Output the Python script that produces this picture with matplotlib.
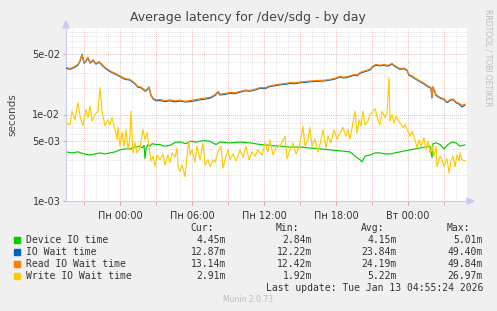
import numpy as np
import matplotlib
matplotlib.use("Agg")
import matplotlib.pyplot as plt
from matplotlib.patches import Polygon, Rectangle

# time in minutes relative to "Пн 00:00"
read_t = [-270, -250, -225, -210, -200, -190, -180, -170, -160, -150, -135, -120, -105, -90, -75,
          -50, -25, 0, 25, 50, 75, 90, 100, 115, 125, 135, 145, 155, 165, 180, 200, 225, 250, 275,
          300, 325, 350, 375, 400, 425, 450, 475, 490, 500, 525, 550, 575, 600, 625, 650, 675, 700,
          725, 750, 775, 800, 825, 850, 875, 900, 925, 950, 975, 1000, 1025, 1050, 1075, 1100, 1115,
          1130, 1150, 1175, 1185, 1200, 1225, 1250, 1265, 1280, 1300, 1320, 1340, 1360, 1380, 1400,
          1420, 1435, 1445, 1460, 1480, 1500, 1520, 1540, 1555, 1560, 1565, 1580, 1600, 1620, 1635,
          1650, 1665, 1680, 1695, 1710, 1725]
read_wait = [0.035, 0.034, 0.036, 0.038, 0.042, 0.0498, 0.040, 0.042, 0.046, 0.040, 0.043, 0.039,
             0.041, 0.038, 0.035, 0.032, 0.030, 0.028, 0.026, 0.0255, 0.023, 0.021, 0.021, 0.020,
             0.019, 0.0195, 0.021, 0.017, 0.0155, 0.0148, 0.0149, 0.0145, 0.0148, 0.0144, 0.0147,
             0.0142, 0.0145, 0.0148, 0.0152, 0.0155, 0.0158, 0.017, 0.0185, 0.0172, 0.0175, 0.018,
             0.0178, 0.0185, 0.0192, 0.019, 0.0196, 0.0205, 0.0204, 0.0215, 0.022, 0.0225, 0.0228,
             0.0234, 0.0232, 0.0238, 0.024, 0.0244, 0.0246, 0.0248, 0.025, 0.0255, 0.0262, 0.0277,
             0.027, 0.0272, 0.028, 0.0292, 0.0285, 0.0305, 0.032, 0.0334, 0.0365, 0.038, 0.0372,
             0.0378, 0.037, 0.039, 0.036, 0.034, 0.0345, 0.033, 0.029, 0.028, 0.026, 0.0244, 0.023,
             0.0213, 0.0205, 0.0158, 0.021, 0.017, 0.0158, 0.0152, 0.014, 0.0148, 0.0152, 0.014,
             0.0135, 0.0128, 0.01314]
io_wait = [0.0342, 0.0333, 0.0352, 0.0372, 0.0411, 0.0494, 0.0392, 0.0412, 0.0451, 0.0392, 0.0421,
           0.0382, 0.0402, 0.0372, 0.0343, 0.0313, 0.0294, 0.0274, 0.0255, 0.0250, 0.0225, 0.0206,
           0.0206, 0.0196, 0.0186, 0.0191, 0.0206, 0.0166, 0.0152, 0.0144, 0.0145, 0.0141, 0.0144,
           0.0140, 0.0143, 0.01395, 0.0141, 0.0144, 0.0148, 0.0151, 0.0154, 0.0166, 0.0181, 0.0168,
           0.0171, 0.0176, 0.0174, 0.0181, 0.0188, 0.0186, 0.0192, 0.0201, 0.0199, 0.0211, 0.0215,
           0.0220, 0.0223, 0.0229, 0.0227, 0.0233, 0.0235, 0.0239, 0.0241, 0.0243, 0.0245, 0.0250,
           0.0257, 0.0271, 0.0265, 0.0266, 0.0274, 0.0286, 0.0279, 0.0299, 0.0313, 0.0327, 0.0357,
           0.0372, 0.0365, 0.0370, 0.0362, 0.0382, 0.0352, 0.0333, 0.0338, 0.0323, 0.0284, 0.0274,
           0.0255, 0.0239, 0.0225, 0.0209, 0.0201, 0.0155, 0.0206, 0.0166, 0.0155, 0.0149, 0.0137,
           0.0145, 0.0149, 0.0137, 0.0132, 0.01222, 0.01287]

dev_t = [-270, -240, -210, -180, -150, -125, -100, -75, -50, -25, 0, 25, 50, 75, 100, 110, 120, 125,
         130, 140, 150, 160, 180, 200, 220, 250, 280, 300, 330, 350, 380, 420, 450, 480, 500, 550,
         600, 650, 700, 750, 800, 850, 900, 950, 1000, 1050, 1100, 1150, 1175, 1200, 1210, 1225,
         1250, 1275, 1300, 1325, 1350, 1375, 1400, 1425, 1450, 1475, 1500, 1525, 1550, 1560, 1565,
         1580, 1600, 1620, 1640, 1660, 1680, 1700, 1725]
dev_io = [0.0037, 0.0036, 0.0037, 0.0035, 0.0034, 0.0035, 0.0036, 0.0035, 0.0036, 0.0037, 0.0039,
          0.0040, 0.0040, 0.0042, 0.0043, 0.0041, 0.0044, 0.0031, 0.0040, 0.0045, 0.0043, 0.0046,
          0.0045, 0.0045, 0.0043, 0.0044, 0.0048, 0.0048, 0.0046, 0.0049, 0.0048, 0.0050, 0.0049,
          0.0045, 0.0048, 0.0047, 0.0048, 0.0047, 0.0045, 0.0044, 0.0043, 0.0042, 0.0042, 0.0041,
          0.0040, 0.0039, 0.0038, 0.0037, 0.0033, 0.0030, 0.00284, 0.0033, 0.0034, 0.0036, 0.0036,
          0.0035, 0.0035, 0.0036, 0.0037, 0.0038, 0.0039, 0.0040, 0.0041, 0.0042, 0.0043, 0.0032,
          0.0046, 0.0047, 0.0045, 0.0040, 0.0045, 0.0048, 0.0047, 0.0043, 0.00445]

wr_t = [-270, -260, -250, -240, -225, -210, -200, -185, -170, -160, -150, -140, -125, -110, -100,
        -90, -75, -60, -50, -40, -25, -15, -10, 0, 10, 20, 30, 40, 50, 55, 65, 75, 85, 100, 115, 125,
        135, 145, 155, 165, 175, 185, 200, 215, 225, 240, 250, 260, 275, 285, 290, 300, 310, 325,
        340, 345, 350, 360, 375, 385, 400, 415, 425, 440, 450, 465, 475, 490, 505, 515, 530, 540,
        550, 565, 580, 600, 615, 630, 645, 660, 675, 690, 710, 725, 740, 750, 765, 780, 800, 825,
        835, 850, 865, 880, 895, 915, 925, 940, 950, 960, 975, 990, 1000, 1015, 1030, 1040, 1055,
        1070, 1085, 1100, 1115, 1130, 1140, 1150, 1165, 1175, 1185, 1195, 1205, 1215, 1225, 1240,
        1250, 1260, 1275, 1290, 1300, 1310, 1325, 1335, 1345, 1350, 1360, 1370, 1380, 1390, 1400,
        1415, 1425, 1440, 1450, 1460, 1475, 1485, 1495, 1505, 1520, 1530, 1540, 1550, 1560, 1570,
        1580, 1585, 1600, 1610, 1620, 1635, 1645, 1655, 1665, 1675, 1685, 1695, 1700, 1710, 1725]
wr_wait = [0.0081, 0.0078, 0.0076, 0.0109, 0.0087, 0.0137, 0.0096, 0.0074, 0.0114, 0.0092, 0.0125,
           0.0084, 0.0100, 0.0109, 0.0204, 0.0109, 0.0074, 0.0087, 0.0076, 0.0092, 0.0067, 0.0051,
           0.0071, 0.0043, 0.0062, 0.0043, 0.0067, 0.0039, 0.0056, 0.0109, 0.0036, 0.0047, 0.0036,
           0.0041, 0.0067, 0.0051, 0.0062, 0.0043, 0.0029, 0.0033, 0.0025, 0.0034, 0.0030, 0.0035,
           0.0026, 0.0034, 0.0028, 0.0036, 0.0032, 0.0041, 0.0025, 0.0022, 0.0026, 0.00192, 0.0043,
           0.0049, 0.0034, 0.0039, 0.0028, 0.0043, 0.0030, 0.0047, 0.0026, 0.0030, 0.0025, 0.0030,
           0.0028, 0.0037, 0.0043, 0.0024, 0.0033, 0.0039, 0.0030, 0.0035, 0.0029, 0.0039, 0.0032,
           0.0043, 0.0030, 0.0037, 0.0033, 0.0039, 0.0034, 0.0047, 0.0037, 0.0051, 0.0034, 0.0041,
           0.0043, 0.0056, 0.0031, 0.0039, 0.0047, 0.0035, 0.0041, 0.0073, 0.0043, 0.0051, 0.0071,
           0.0043, 0.0052, 0.0037, 0.0045, 0.0067, 0.0041, 0.0056, 0.0047, 0.0067, 0.0052, 0.0061,
           0.0071, 0.0056, 0.0067, 0.0052, 0.0081, 0.0109, 0.0061, 0.0087, 0.0074, 0.0109, 0.0076,
           0.0084, 0.0100, 0.0105, 0.0117, 0.0087, 0.0076, 0.0109, 0.0092, 0.0105, 0.02697, 0.0084,
           0.0100, 0.0080, 0.0095, 0.0087, 0.0080, 0.0071, 0.0076, 0.0064, 0.0056, 0.0064, 0.0051,
           0.0041, 0.0051, 0.0043, 0.0054, 0.0039, 0.0049, 0.0036, 0.0043, 0.0033, 0.0043, 0.0025,
           0.0033, 0.0030, 0.0025, 0.0031, 0.0021, 0.0029, 0.0033, 0.0025, 0.0034, 0.0029, 0.0036,
           0.0030, 0.00291]

names = ["Device IO time", "IO Wait time", "Read IO Wait time", "Write IO Wait time"]
colors = ["#00CC00", "#0066B3", "#FF8000", "#FFCC00"]
cur = ["4.45m", "12.87m", "13.14m", "2.91m"]
mins = ["2.84m", "12.22m", "12.42m", "1.92m"]
avgs = ["4.15m", "23.84m", "24.19m", "5.22m"]
maxs = ["5.01m", "49.40m", "49.84m", "26.97m"]
xticks = [0, 360, 720, 1080, 1440]
xticklabels = ["Пн 00:00", "Пн 06:00", "Пн 12:00", "Пн 18:00", "Вт 00:00"]
yticks = [1e-3, 5e-3, 1e-2, 5e-2]
yticklabels = ["1e-03", "5e-03", "1e-02", "5e-02"]

W, H = 497, 311
fig = plt.figure(figsize=(W / 100, H / 100), dpi=100, facecolor="#F0F0F0")


def P(x, y):
    return (x / W, 1 - y / H)


ax = fig.add_axes([66 / W, 1 - 201 / H, 401 / W, 173 / H])
ax.set_facecolor("white")
ax.set_yscale("log")
ax.set_xlim(-270, 1735)
ax.set_ylim(1e-3, 0.1)

# grid
minor_y = [m * 10.0 ** e for e in (-3, -2) for m in (2, 3, 4, 6, 7, 8, 9)]
for v in minor_y:
    ax.axhline(v, color="#D8D8D8", lw=0.6, ls=(0, (1, 1.5)), zorder=0)
for v in [1e-3, 5e-3, 1e-2, 5e-2]:
    ax.axhline(v, color="#E8A0A0", lw=0.6, ls=(0, (1, 1.5)), zorder=0)
for m in range(-240, 1735, 60):
    if m % 180 == 0:
        ax.axvline(m, color="#E8A0A0", lw=0.6, ls=(0, (1, 1.5)), zorder=0)
    else:
        ax.axvline(m, color="#D8D8D8", lw=0.6, ls=(0, (1, 1.5)), zorder=0)

ax.plot(dev_t, dev_io, color=colors[0], lw=0.85, zorder=2)
ax.plot(read_t, io_wait, color=colors[1], lw=0.85, zorder=3)
ax.plot(read_t, read_wait, color=colors[2], lw=0.85, zorder=4)
ax.plot(wr_t, wr_wait, color=colors[3], lw=0.85, zorder=5)

ax.set_xticks(xticks)
ax.set_xticklabels(xticklabels)
ax.set_xticks(range(-180, 1735, 180), minor=True)
ax.set_yticks(yticks)
ax.set_yticklabels(yticklabels)
ax.yaxis.set_minor_locator(matplotlib.ticker.NullLocator())
ax.tick_params(axis="x", which="both", length=3, color="#E8A0A0", labelsize=7,
               labelcolor="#333333", pad=4)
ax.tick_params(axis="y", length=2, color="#E8A0A0", labelsize=7, labelcolor="#333333", pad=2)
for s in ["top", "right"]:
    ax.spines[s].set_visible(False)
ax.spines["left"].set_color("#C8CCF0")
ax.spines["bottom"].set_color("#C8CCF0")
ax.spines["left"].set_linewidth(0.8)
ax.spines["bottom"].set_linewidth(0.8)

# axis arrows
fig.add_artist(Polygon([P(63, 28), P(69, 28), P(66, 21)], closed=True,
                       transform=fig.transFigure, color="#C8CCF0"))
fig.add_artist(Polygon([P(467, 198), P(467, 204), P(474, 201)], closed=True,
                       transform=fig.transFigure, color="#C8CCF0"))

fig.text(*P(248, 18), "Average latency for /dev/sdg - by day", ha="center", va="center",
         fontsize=9, color="#444444")
fig.text(*P(12, 115), "seconds", rotation=90, ha="center", va="center", fontsize=7.5,
         color="#444444")
fig.text(*P(488, 58), "RRDTOOL / TOBI OETIKER", rotation=270, ha="center", va="center",
         fontsize=5.5, color="#BBBBBB")

mono = "DejaVu Sans Mono"
fs = 7
for xh, lab in zip([190, 276, 361, 447], ["Cur:", "Min:", "Avg:", "Max:"]):
    fig.text(*P(xh, 228), lab, ha="left", va="center", family=mono, fontsize=fs, color="#333333")
for i in range(4):
    y = 240 + 12 * i
    fig.add_artist(Rectangle(P(14, y + 3), 6 / W, 6 / H, transform=fig.transFigure,
                             color=colors[i]))
    fig.text(*P(26, y), names[i], ha="left", va="center", family=mono, fontsize=fs,
             color="#333333")
    for xr, vals in zip([226, 312, 397, 483], [cur, mins, avgs, maxs]):
        fig.text(*P(xr, y), vals[i], ha="right", va="center", family=mono, fontsize=fs,
                 color="#333333")
fig.text(*P(483, 288), "Last update: Tue Jan 13 04:55:24 2026", ha="right", va="center",
         family=mono, fontsize=fs, color="#333333")
fig.text(*P(248, 300), "Munin 2.0.73", ha="center", va="center", fontsize=5.5, color="#BBBBBB")

fig.savefig("out.png", dpi=100, facecolor=fig.get_facecolor())
